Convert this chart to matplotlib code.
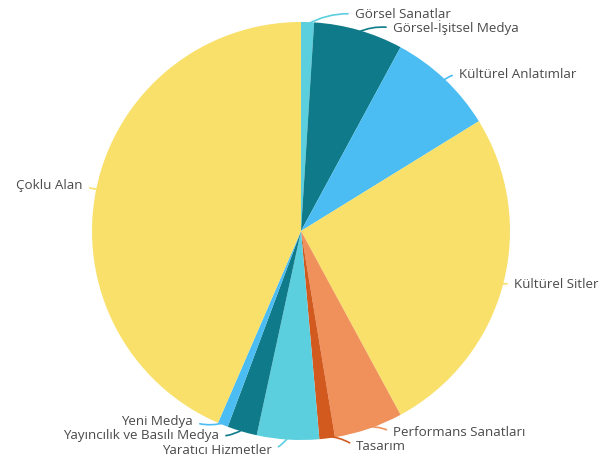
import numpy as np
import matplotlib
matplotlib.use("Agg")
import matplotlib.pyplot as plt

categories = ["Görsel Sanatlar", "Görsel-İşitsel Medya", "Kültürel Anlatımlar",
              "Kültürel Sitler", "Performans Sanatları", "Tasarım",
              "Yaratıcı Hizmetler", "Yayıncılık ve Basılı Medya", "Yeni Medya",
              "Çoklu Alan"]
values = [1.0, 6.9, 8.3, 25.9, 5.3, 1.2, 4.8, 2.3, 0.8, 43.5]
colors = ["#5CCFDE", "#0F7B8A", "#4BBDF2", "#F8E06A", "#F0905A", "#D35A1F",
          "#5CCFDE", "#0F7B8A", "#4BBDF2", "#F8E06A"]

# label layout (pixel positions in a 614x457 canvas, y from top) and alignment
label_px = [(355, 14), (393, 28), (459, 74), (514, 285), (393, 433),
            (356, 447), (272, 450), (219, 436), (193, 422), (83, 185)]
label_ha = ["left", "left", "left", "left", "left", "left",
            "right", "right", "right", "right"]

W, H = 614, 457
fig = plt.figure(figsize=(W / 100, H / 100), dpi=100)
cx, cy, r = 301, 231, 209
ax = fig.add_axes([(cx - r) / W, (H - cy - r) / H, 2 * r / W, 2 * r / H])
wedges, _ = ax.pie(values, colors=colors, startangle=90, counterclock=False,
                   radius=1.0, wedgeprops=dict(linewidth=0))
ax.set_xlim(-1, 1)
ax.set_ylim(-1, 1)
ax.set_aspect("equal")
ax.axis("off")

for w, lab, (px, py), ha, col in zip(wedges, categories, label_px, label_ha, colors):
    ang = np.deg2rad((w.theta1 + w.theta2) / 2)
    xy = (np.cos(ang) * 0.99, np.sin(ang) * 0.99)
    relx = 0 if ha == "left" else 1
    ax.annotate(lab, xy=xy, xycoords="data",
                xytext=(px, H - py), textcoords="figure pixels",
                ha=ha, va="center", fontsize=9.6, color="#4A4A4A",
                family="Open Sans",
                arrowprops=dict(arrowstyle="-", color=col, lw=1.2,
                                shrinkA=3, shrinkB=0, relpos=(relx, 0.5),
                                connectionstyle="arc3,rad=0.15"),
                annotation_clip=False)

fig.savefig("out.png", dpi=100)
